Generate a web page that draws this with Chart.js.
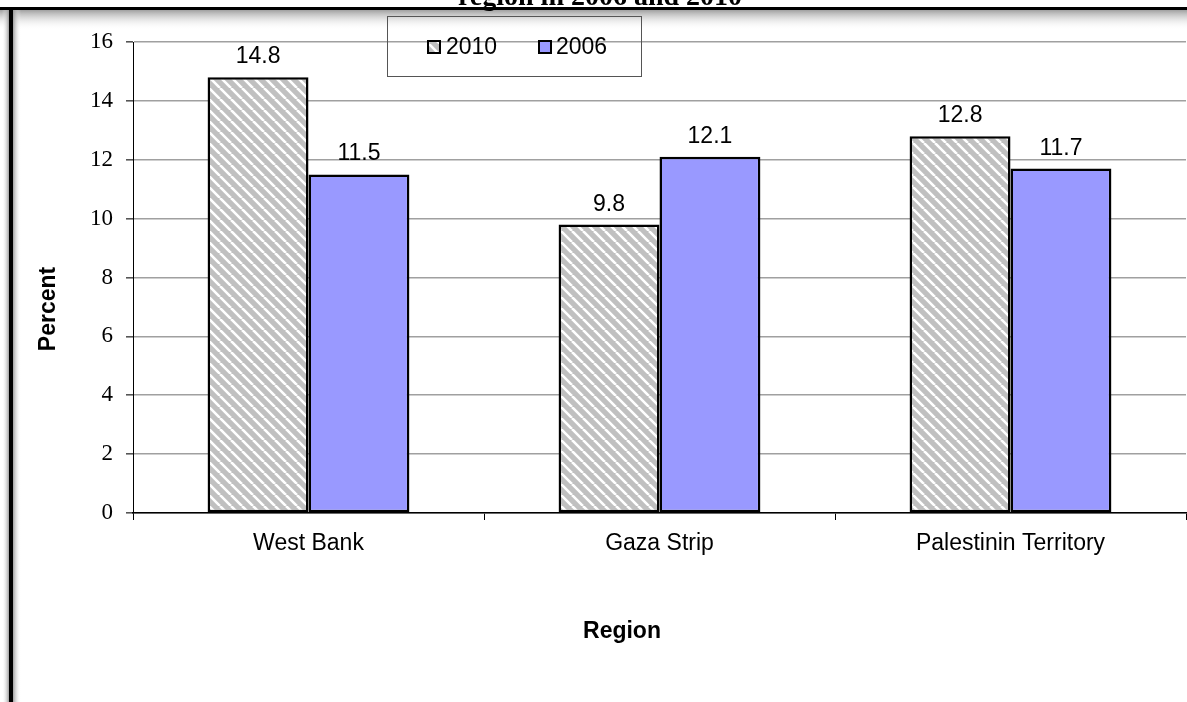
<!DOCTYPE html>
<html>
<head>
<meta charset="utf-8">
<script src="https://cdn.jsdelivr.net/npm/chart.js@4.4.0/dist/chart.umd.min.js"></script>
<style>
  html, body { margin: 0; padding: 0; background: #fff; overflow: hidden; }
  #wrap { width: 1187px; height: 702px; }
</style>
</head>
<body>
<div id="wrap"><canvas id="chart" width="1187" height="702"></canvas></div>
<script>
// chart data
const regions = ['West Bank', 'Gaza Strip', 'Palestinin Territory'];
const seriesNames = ['2010', '2006'];
const values2010 = [14.8, 9.8, 12.8];
const values2006 = [11.5, 12.1, 11.7];
const yTicks = [0, 2, 4, 6, 8, 10, 12, 14, 16];
const chartTitle = 'region in 2006 and 2010';
const xTitle = 'Region';
const yTitle = 'Percent';

const canvas = document.getElementById('chart');
const ctx = canvas.getContext('2d');

// grey fill with white diagonal stripes, like the Excel pattern
function makeHatch() {
  const size = 11;
  const c = document.createElement('canvas');
  c.width = size;
  c.height = size;
  const g = c.getContext('2d');
  g.fillStyle = '#c0c0c0';
  g.fillRect(0, 0, size, size);
  g.strokeStyle = '#ffffff';
  g.lineWidth = 2.6;
  g.beginPath();
  for (let k = -1; k <= 1; k++) {
    g.moveTo(k * size, 0);
    g.lineTo(k * size + size, size);
  }
  g.stroke();
  return ctx.createPattern(c, 'repeat');
}
const hatch = makeHatch();
const blue = '#9999ff';

const ARIAL = "'Liberation Sans', Arial, sans-serif";
const SERIF = "'Liberation Serif', 'Times New Roman', serif";

const decorations = {
  id: 'decorations',
  beforeDraw(chart) {
    const c = chart.ctx;
    c.save();
    c.fillStyle = '#fff';
    c.fillRect(0, 0, chart.width, chart.height);
    // soft shadow under the top rule
    let gr = c.createLinearGradient(0, 10, 0, 30);
    gr.addColorStop(0, 'rgba(150,150,150,0.9)');
    gr.addColorStop(1, 'rgba(255,255,255,0)');
    c.fillStyle = gr;
    c.fillRect(0, 10, chart.width, 20);
    // shadows either side of the left rule
    gr = c.createLinearGradient(2, 0, 9, 0);
    gr.addColorStop(0, 'rgba(255,255,255,0)');
    gr.addColorStop(1, 'rgba(150,150,150,0.9)');
    c.fillStyle = gr;
    c.fillRect(2, 10, 7, chart.height);
    gr = c.createLinearGradient(13, 0, 21, 0);
    gr.addColorStop(0, 'rgba(150,150,150,0.9)');
    gr.addColorStop(1, 'rgba(255,255,255,0)');
    c.fillStyle = gr;
    c.fillRect(13, 10, 8, chart.height);
    c.restore();
  },
  afterDatasetsDraw(chart) {
    const c = chart.ctx;
    c.save();
    c.font = '23px ' + ARIAL;
    c.fillStyle = '#000';
    c.textAlign = 'center';
    c.textBaseline = 'alphabetic';
    chart.data.datasets.forEach((ds, i) => {
      chart.getDatasetMeta(i).data.forEach((bar, j) => {
        c.fillText(ds.data[j].toFixed(1), bar.x, bar.y - 14);
      });
    });
    c.restore();
  },
  afterDraw(chart) {
    const c = chart.ctx;
    c.save();
    // title, mostly cut off by the top of the frame
    c.font = 'bold 28px ' + SERIF;
    c.fillStyle = '#000';
    c.textAlign = 'center';
    c.textBaseline = 'alphabetic';
    c.fillText(chartTitle, 600, 5);
    // frame rules
    c.fillStyle = '#000';
    c.fillRect(0, 7, chart.width, 3);
    c.fillRect(9, 9, 4, chart.height);

    // axis titles
    c.font = 'bold 23px ' + ARIAL;
    c.textAlign = 'center';
    c.textBaseline = 'middle';
    c.fillText(xTitle, 622, 632);
    c.translate(49, 309);
    c.rotate(-Math.PI / 2);
    c.fillText(yTitle, 0, 0);
    c.setTransform(1, 0, 0, 1, 0, 0);

    // legend box
    c.strokeStyle = '#555';
    c.lineWidth = 1;
    c.strokeRect(387.5, 16.5, 254, 60);
    const items = [
      { label: seriesNames[0], fill: hatch, x: 428, tx: 446 },
      { label: seriesNames[1], fill: blue, x: 539, tx: 556 }
    ];
    c.font = '23px ' + ARIAL;
    c.textAlign = 'left';
    items.forEach(it => {
      c.fillStyle = it.fill;
      c.fillRect(it.x, 41, 12, 12);
      c.strokeStyle = '#000';
      c.lineWidth = 2;
      c.strokeRect(it.x, 41, 12, 12);
      c.fillStyle = '#000';
      c.fillText(it.label, it.tx, 48);
    });
    c.restore();
  }
};

new Chart(canvas, {
  type: 'bar',
  data: {
    labels: regions,
    datasets: [{
      label: seriesNames[0],
      data: values2010,
      backgroundColor: hatch,
      borderColor: '#000',
      borderWidth: 2.5,
      borderSkipped: false,
      categoryPercentage: 0.575,
      barPercentage: 1.0
    }, {
      label: seriesNames[1],
      data: values2006,
      backgroundColor: blue,
      borderColor: '#000',
      borderWidth: 2.5,
      borderSkipped: false,
      categoryPercentage: 0.575,
      barPercentage: 1.0
    }]
  },
  options: {
    responsive: false,
    animation: false,
    devicePixelRatio: 1,
    layout: { padding: { top: 42, right: 1, left: 0, bottom: 0 } },
    plugins: {
      legend: { display: false },
      title: { display: false },
      tooltip: { enabled: false }
    },
    scales: {
      x: {
        afterFit(scale) { scale.height = 189; },
        grid: {
          offset: true,
          drawOnChartArea: false,
          drawTicks: true,
          tickLength: 7,
          tickColor: '#000'
        },
        border: { color: '#000', width: 1.5 },
        ticks: {
          color: '#000',
          padding: 10,
          font: { family: ARIAL, size: 23 }
        }
      },
      y: {
        min: 0,
        max: 16,
        afterFit(scale) { scale.width = 133; },
        afterBuildTicks(scale) { scale.ticks = yTicks.map(v => ({ value: v })); },
        grid: {
          color: '#a0a0a0',
          lineWidth: 1.6,
          tickLength: 7,
          tickColor: '#555'
        },
        border: { color: '#000', width: 1 },
        ticks: {
          color: '#000',
          padding: 13,
          font: { family: SERIF, size: 23 }
        }
      }
    }
  },
  plugins: [decorations]
});
</script>
</body>
</html>
